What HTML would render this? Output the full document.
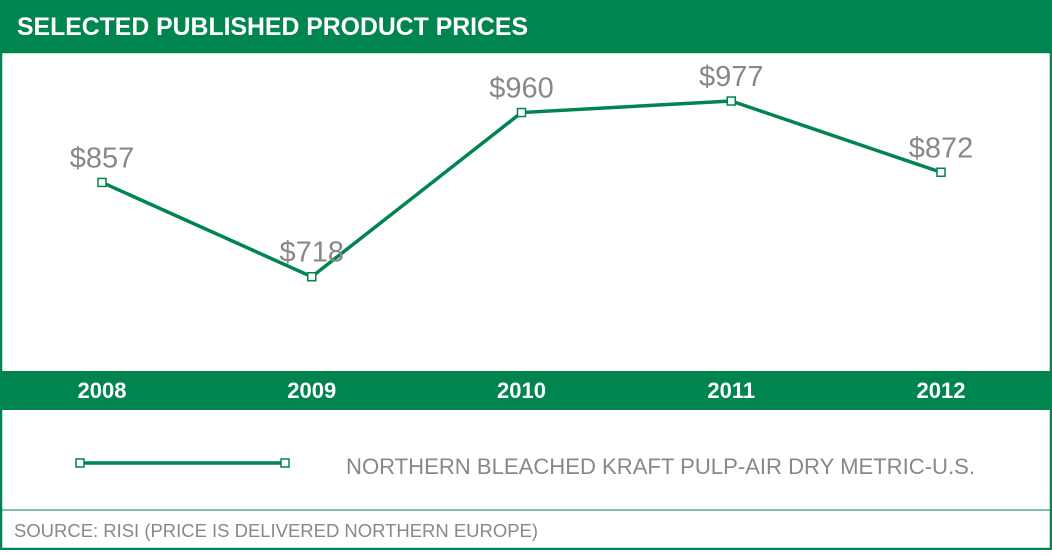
<!DOCTYPE html>
<html><head><meta charset="utf-8"><style>
body{margin:0;width:1052px;height:550px;overflow:hidden;background:#fff;font-family:"Liberation Sans",sans-serif}
</style></head><body>
<svg width="1052" height="550" xmlns="http://www.w3.org/2000/svg">
<rect x="0" y="0" width="1052" height="52" fill="#00854f"/>
<text x="17" y="35" font-size="25" font-weight="bold" fill="#fff" textLength="511" lengthAdjust="spacingAndGlyphs">SELECTED PUBLISHED PRODUCT PRICES</text>
<rect x="1" y="52" width="1050" height="497" fill="none" stroke="#00854f" stroke-width="2.5"/>
<rect x="0" y="371" width="1052" height="39" fill="#00854f"/>
<line x1="0" y1="510" x2="1052" y2="510" stroke="#00854f" stroke-width="1"/>
<g id="plot"></g>
<line x1="80" y1="463" x2="285" y2="463" stroke="#00854f" stroke-width="3.5"/>
<rect x="76" y="459" width="8" height="8" fill="#fff" stroke="#00854f" stroke-width="1.5"/>
<rect x="281" y="459" width="8" height="8" fill="#fff" stroke="#00854f" stroke-width="1.5"/>
<text x="346" y="474" font-size="22" fill="#888" textLength="629" lengthAdjust="spacingAndGlyphs">NORTHERN BLEACHED KRAFT PULP-AIR DRY METRIC-U.S.</text>
<text x="14" y="537" font-size="18" fill="#888" textLength="524" lengthAdjust="spacingAndGlyphs">SOURCE: RISI (PRICE IS DELIVERED NORTHERN EUROPE)</text>
</svg>
<script>
const years=["2008","2009","2010","2011","2012"];
const prices=[857,718,960,977,872];
const priceLabels=["$857","$718","$960","$977","$872"];
const NS="http://www.w3.org/2000/svg";
const g=document.getElementById('plot');
function x(i){return 102+i*209.75;}
function y(v){return 169-0.6785*(v-876.8);}
const pts=prices.map((v,i)=>x(i)+","+y(v)).join(" ");
const pl=document.createElementNS(NS,'polyline');
pl.setAttribute('points',pts);pl.setAttribute('fill','none');pl.setAttribute('stroke','#00854f');pl.setAttribute('stroke-width','3.5');


g.appendChild(pl);
prices.forEach((v,i)=>{
 const r=document.createElementNS(NS,'rect');
 r.setAttribute('x',x(i)-4);r.setAttribute('y',y(v)-4);r.setAttribute('width',8);r.setAttribute('height',8);
 r.setAttribute('fill','#fff');r.setAttribute('stroke','#00854f');r.setAttribute('stroke-width','1.5');
 
 
 g.appendChild(r);
 const t=document.createElementNS(NS,'text');
 t.setAttribute('x',x(i));t.setAttribute('y',y(v)-15);t.setAttribute('text-anchor','middle');
 t.setAttribute('font-size','29');t.setAttribute('fill','#888');
 t.textContent=priceLabels[i];
 
 
 g.appendChild(t);
 const yl=document.createElementNS(NS,'text');
 yl.setAttribute('x',x(i));yl.setAttribute('y',398);yl.setAttribute('text-anchor','middle');
 yl.setAttribute('font-size','22');yl.setAttribute('font-weight','bold');yl.setAttribute('fill','#fff');
 yl.textContent=years[i];
 
 
 g.appendChild(yl);
});
</script>
</body></html>
